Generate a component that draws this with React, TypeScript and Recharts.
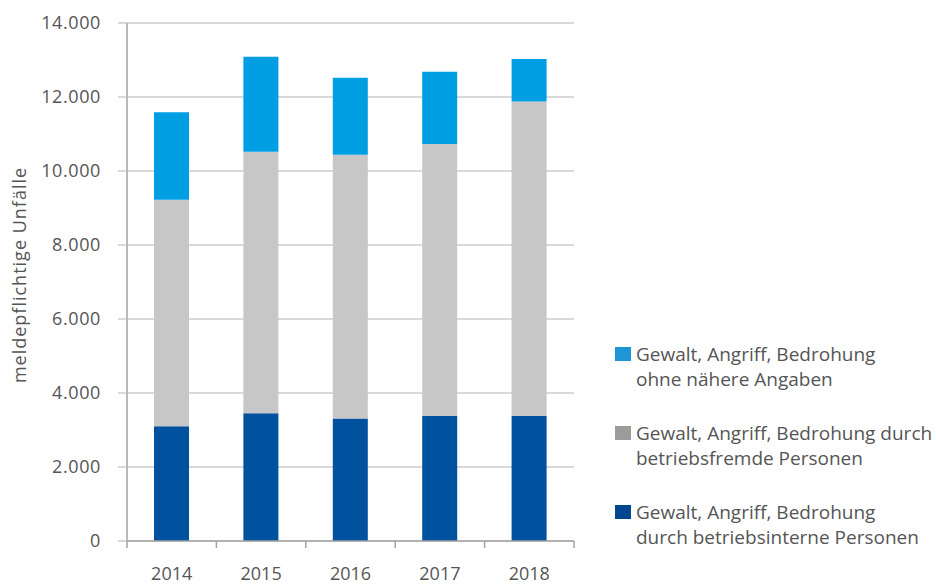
import { BarChart, Bar, XAxis, YAxis, CartesianGrid } from 'recharts';

// Jahre und Werte (meldepflichtige Unfälle)
const years = ['2014', '2015', '2016', '2017', '2018'];
const intern = [3100, 3450, 3310, 3380, 3380];
const fremd = [6120, 7070, 7130, 7350, 8500];
const ohne = [2370, 2570, 2080, 1950, 1150];
const yTicks = [0, 2000, 4000, 6000, 8000, 10000, 12000, 14000];

const seriesNames = {
  intern: 'Gewalt, Angriff, Bedrohung durch betriebsinterne Personen',
  fremd: 'Gewalt, Angriff, Bedrohung durch betriebsfremde Personen',
  ohne: 'Gewalt, Angriff, Bedrohung ohne nähere Angaben',
};

const legendItems = [
  { color: '#1e96d6', lines: ['Gewalt, Angriff, Bedrohung', 'ohne nähere Angaben'] },
  { color: '#9b9b9b', lines: ['Gewalt, Angriff, Bedrohung durch', 'betriebsfremde Personen'] },
  { color: '#00478f', lines: ['Gewalt, Angriff, Bedrohung', 'durch betriebsinterne Personen'] },
];

const data = years.map((year, i) => ({
  year,
  intern: intern[i],
  fremd: fremd[i],
  ohne: ohne[i],
}));

const FONT = '"Open Sans", sans-serif';
const TEXT = '#555555';
const AXIS = '#a3a3a3';
const X_TICK_SIZE = 7;
const X_TICK_MARGIN = 19;

const formatNum = (v: number) => v.toLocaleString('de-DE');

// Beschriftung in der Mitte, Teilstriche an den Kategoriegrenzen
const YearTick = (props: any) => {
  const { x, y, payload, index, visibleTicksCount } = props;
  const half = payload.offset ?? 44.7;
  const axisY = y - X_TICK_SIZE - X_TICK_MARGIN;
  const isLast = index === (visibleTicksCount ?? years.length) - 1;
  return (
    <g>
      <line x1={x - half} x2={x - half} y1={axisY} y2={axisY + X_TICK_SIZE} stroke={AXIS} strokeWidth={1.5} />
      {isLast && (
        <line x1={x + half} x2={x + half} y1={axisY} y2={axisY + X_TICK_SIZE} stroke={AXIS} strokeWidth={1.5} />
      )}
      <text x={x} y={y} dy="0.71em" textAnchor="middle" fill={TEXT} fontSize={18} fontFamily={FONT}>
        {payload.value}
      </text>
    </g>
  );
};

const YLabel = (props: any) => {
  const { viewBox } = props;
  const cx = viewBox.x + 19;
  const cy = viewBox.y + viewBox.height / 2 - 7;
  return (
    <text
      x={cx}
      y={cy}
      transform={`rotate(-90 ${cx} ${cy})`}
      textAnchor="middle"
      dominantBaseline="central"
      fill={TEXT}
      fontSize={18}
      letterSpacing={1}
      fontFamily={FONT}
    >
      meldepflichtige Unfälle
    </text>
  );
};

export default function App() {
  return (
    <div style={{ position: 'absolute', left: 0, top: 0, width: 936, height: 585, background: '#fff' }}>
      <BarChart
        width={936}
        height={585}
        data={data}
        margin={{ top: 23, right: 362, bottom: 0, left: 0 }}
      >
        <CartesianGrid vertical={false} stroke="#cccccc" strokeWidth={1.5} />
        <XAxis
          dataKey="year"
          height={44}
          stroke={AXIS}
          axisLine={{ stroke: AXIS, strokeWidth: 1.5 }}
          tickLine={{ stroke: 'none' }}
          tickSize={X_TICK_SIZE}
          tickMargin={X_TICK_MARGIN}
          tick={<YearTick />}
          interval={0}
        />
        <YAxis
          width={127}
          domain={[0, 14000]}
          ticks={yTicks}
          tickFormatter={formatNum}
          axisLine={{ stroke: AXIS, strokeWidth: 1.5 }}
          tickLine={{ stroke: '#cccccc', strokeWidth: 1.5 }}
          tickSize={9}
          tickMargin={17}
          tick={{ fill: TEXT, fontSize: 18, fontFamily: FONT, letterSpacing: 0.6 }}
          label={<YLabel />}
        />
        <Bar dataKey="intern" name={seriesNames.intern} stackId="a" fill="#00519e" barSize={35} isAnimationActive={false} />
        <Bar dataKey="fremd" name={seriesNames.fremd} stackId="a" fill="#c6c7c6" barSize={35} isAnimationActive={false} />
        <Bar dataKey="ohne" name={seriesNames.ohne} stackId="a" fill="#009fe3" barSize={35} isAnimationActive={false} />
      </BarChart>
      <div style={{ position: 'absolute', left: 615, top: 342, fontFamily: FONT, fontSize: 19, color: TEXT }}>
        {legendItems.map((item, i) => (
          <div key={i} style={{ position: 'relative', height: 79, paddingLeft: 21, lineHeight: '24.5px', whiteSpace: 'nowrap' }}>
            <span
              style={{ position: 'absolute', left: 0, top: 5, width: 16, height: 14, background: item.color }}
            />
            {item.lines.map((l, j) => (
              <div key={j}>{l}</div>
            ))}
          </div>
        ))}
      </div>
    </div>
  );
}
